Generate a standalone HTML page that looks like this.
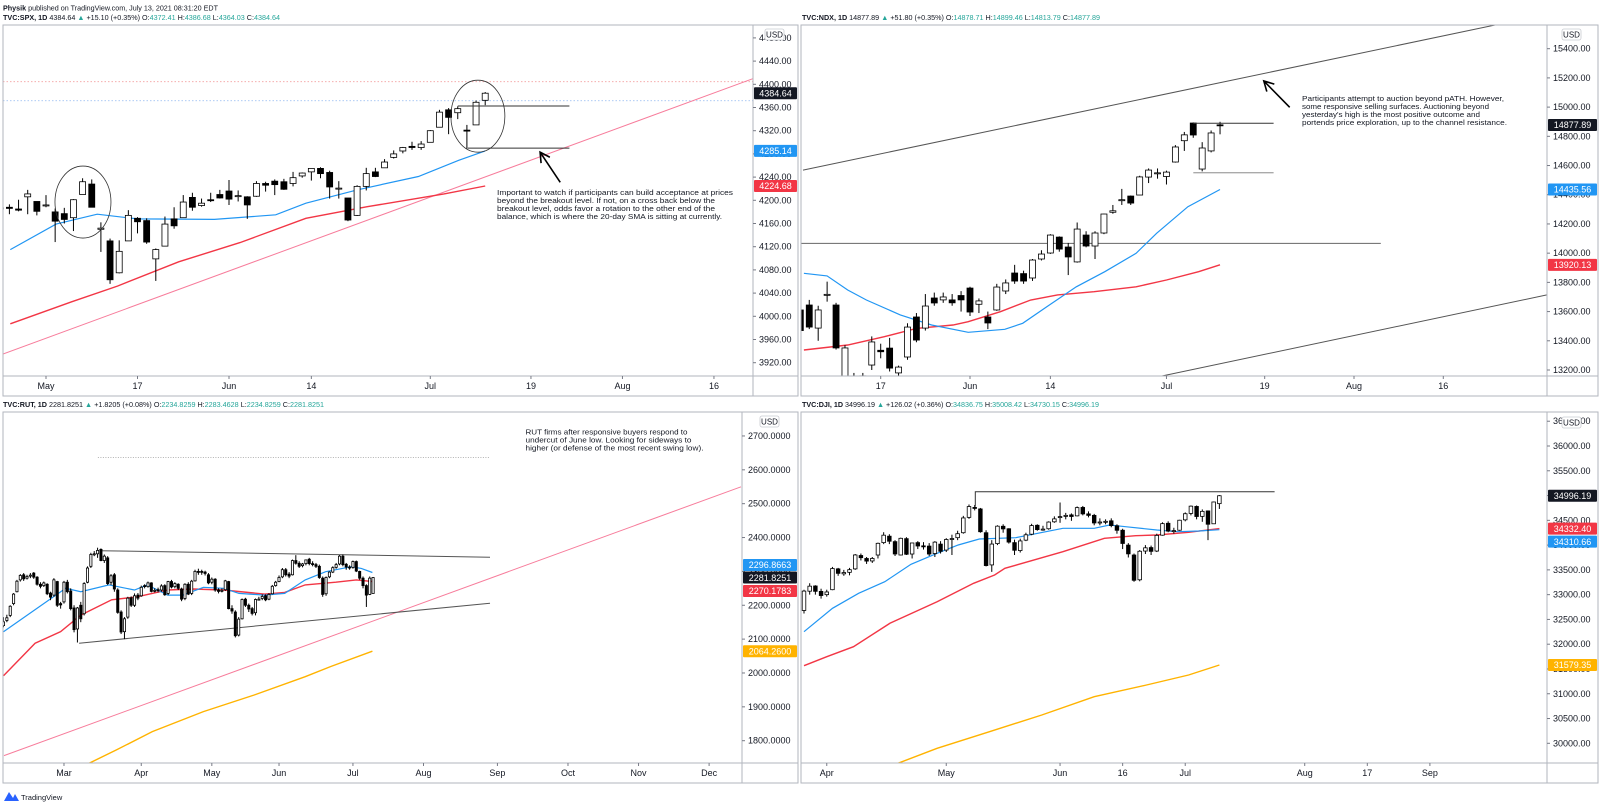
<!DOCTYPE html>
<html><head><meta charset="utf-8"><title>Index charts</title>
<style>
html,body{margin:0;padding:0;background:#fff;}
svg{display:block;font-family:"Liberation Sans",sans-serif;}
</style></head>
<body>
<svg id="chart" width="1600" height="805" viewBox="0 0 1600 805" xmlns="http://www.w3.org/2000/svg">
  <rect x="0" y="0" width="1600" height="805" fill="#ffffff"/>
  <text x="3" y="10.5" font-size="7.2" fill="#131722" textLength="215" lengthAdjust="spacingAndGlyphs"><tspan font-weight="bold">Physik</tspan> published on TradingView.com, July 13, 2021 08:31:20 EDT</text>
  <text x="3" y="20" font-size="7.2" fill="#131722" textLength="277" lengthAdjust="spacingAndGlyphs"><tspan font-weight="bold">TVC:SPX, 1D</tspan> 4384.64 <tspan fill="#26a69a">▲</tspan> +15.10 (+0.35%) O:<tspan fill="#26a69a">4372.41</tspan> H:<tspan fill="#26a69a">4386.68</tspan> L:<tspan fill="#26a69a">4364.03</tspan> C:<tspan fill="#26a69a">4384.64</tspan></text>
  <text x="802" y="20" font-size="7.2" fill="#131722" textLength="298" lengthAdjust="spacingAndGlyphs"><tspan font-weight="bold">TVC:NDX, 1D</tspan> 14877.89 <tspan fill="#26a69a">▲</tspan> +51.80 (+0.35%) O:<tspan fill="#26a69a">14878.71</tspan> H:<tspan fill="#26a69a">14899.46</tspan> L:<tspan fill="#26a69a">14813.79</tspan> C:<tspan fill="#26a69a">14877.89</tspan></text>
  <text x="3" y="407" font-size="7.2" fill="#131722" textLength="321" lengthAdjust="spacingAndGlyphs"><tspan font-weight="bold">TVC:RUT, 1D</tspan> 2281.8251 <tspan fill="#26a69a">▲</tspan> +1.8205 (+0.08%) O:<tspan fill="#26a69a">2234.8259</tspan> H:<tspan fill="#26a69a">2283.4628</tspan> L:<tspan fill="#26a69a">2234.8259</tspan> C:<tspan fill="#26a69a">2281.8251</tspan></text>
  <text x="802" y="407" font-size="7.2" fill="#131722" textLength="297" lengthAdjust="spacingAndGlyphs"><tspan font-weight="bold">TVC:DJI, 1D</tspan> 34996.19 <tspan fill="#26a69a">▲</tspan> +126.02 (+0.36%) O:<tspan fill="#26a69a">34836.75</tspan> H:<tspan fill="#26a69a">35008.42</tspan> L:<tspan fill="#26a69a">34730.15</tspan> C:<tspan fill="#26a69a">34996.19</tspan></text>
  <g>
    <path d="M4 801 L9 792 L13 798 L15 794 L19 801 Z" fill="#2962ff"/>
    <text x="21" y="800" font-size="7.5" fill="#131722">TradingView</text>
  </g>
</svg>
<script>
// ================= SPX data =================
const spxOpen=[4185,4188,4185,4206,4198,4191,4180,4177,4170,4210,4228,4150,4130,4075,4130,4169,4165,4099,4121,4168,4170,4205,4191,4201,4210,4216,4207,4206,4207,4229,4233,4232,4229,4242,4249,4255,4248,4220,4204,4174,4224,4249,4256,4274,4285,4293,4291,4300,4326,4356,4351,4321,4330,4372.41];
const spxHigh=[4194,4193,4201,4218,4198,4209,4186,4187,4202,4238,4236,4162,4134,4131,4183,4171,4169,4117,4172,4188,4209,4213,4203,4213,4218,4235,4217,4207,4233,4232,4236,4237,4249,4248,4255,4257,4251,4233,4204,4226,4256,4256,4271,4286,4292,4301,4302,4321,4356,4359,4362,4330,4372,4386.68];
const spxLow=[4182,4176,4181,4176,4174,4188,4128,4160,4147,4210,4188,4111,4056,4074,4130,4143,4125,4061,4121,4151,4170,4182,4189,4197,4203,4192,4198,4168,4206,4215,4209,4218,4224,4239,4234,4238,4203,4203,4164,4173,4217,4240,4256,4272,4281,4287,4287,4300,4326,4314,4340,4289,4330,4364.03];
const spxClose=[4187,4186,4183,4211,4181,4192,4164,4167,4201,4232,4188,4152,4063,4112,4174,4163,4128,4115,4159,4156,4197,4188,4195,4200,4204,4202,4208,4192,4229,4226,4227,4219,4239,4247,4255,4246,4223,4221,4166,4224,4246,4241,4266,4280,4291,4291,4297,4320,4352,4343,4358,4320,4369,4384.64];
const spxSma20Idx=[1.1,6.1,10.6,15,23.4,30.1,33.4,39,45.7,50.1,53];
const spxSma20Val=[4115,4159,4176,4168,4167,4175,4195,4218,4241,4269,4285.14];
const spxSma50Idx=[1.1,7.8,12.8,19.5,26.2,33.4,40.1,48.5,53];
const spxSma50Val=[3987,4025,4052,4094,4127,4169,4189,4211,4224.68];
const spxTicks=[3920,3960,4000,4040,4080,4120,4160,4200,4240,4280,4320,4360,4400,4440,4480];
const spxDateIdx=[5,15,25,34,47,58,68,78];
const spxDateLbl=['May','17','Jun','14','Jul','19','Aug','16'];

// ================= NDX data =================
const ndxOpen=[13611,13645,13487,13714,13645,13150,13100,13120,13234,13335,13350,13180,13289,13563,13487,13693,13680,13680,13710,13761,13650,13563,13611,13741,13864,13860,13830,13960,14001,14110,14042,13940,14124,14049,14138,14280,14362,14391,14398,14521,14546,14525,14624,14770,14891,14576,14700,14878.71];
const ndxHigh=[13640,13680,13640,13805,13660,13370,13180,13180,13430,13380,13420,13230,13520,13590,13720,13730,13730,13720,13740,13770,13690,13600,13790,13820,13920,13880,13960,14020,14130,14115,14070,14210,14150,14150,14270,14330,14440,14395,14530,14580,14580,14565,14740,14830,14895,14760,14840,14899.46];
const ndxLow=[13440,13480,13400,13668,13340,13050,13000,13050,13200,13280,13190,13100,13270,13390,13470,13640,13660,13640,13600,13570,13590,13480,13605,13720,13790,13790,13810,13950,13995,14010,13850,13935,14040,13960,14130,14270,14330,14330,14398,14480,14510,14470,14620,14700,14790,14560,14690,14813.79];
const ndxClose=[13470,13494,13611,13718,13351,13351,13140,13160,13392,13325,13213,13220,13494,13405,13638,13659,13700,13660,13680,13597,13673,13522,13768,13796,13809,13809,13953,13994,14124,14028,13974,14165,14049,14138,14268,14290,14366,14343,14522,14569,14550,14555,14727,14810,14809,14720,14823,14877.89];
const ndxSma20Idx=[0.4,3,5.3,7.4,11.2,14.7,18.8,22.9,24.9,27.6,30.9,34.1,37.6,39.9,43.4,47];
const ndxSma20Val=[13862,13844,13748,13679,13577,13508,13458,13479,13520,13633,13770,13873,13999,14136,14318,14435.56];
const ndxSma50Idx=[0.4,5.3,9.4,13,17.1,18.8,22.4,25.8,28.8,32.9,37.6,41,44.6,47];
const ndxSma50Val=[13337,13371,13428,13485,13508,13531,13599,13679,13714,13736,13770,13816,13873,13920.13];
const ndxTicks=[13200,13400,13600,13800,14000,14200,14400,14600,14800,15000,15200,15400];
const ndxDateIdx=[9,19,28,41,52,62,72];
const ndxDateLbl=['17','Jun','14','Jul','19','Aug','16'];

// ================= RUT data =================
const rutOpen=[2140,2155,2170,2205,2240,2275,2290,2280,2287,2295,2283,2262,2258,2262,2236,2230,2270,2205,
2210,2268,2242,2192,2130,2200,2175,2268,2315,2350,2352,2365,2332,2340,2268,2290,2245,2180,2122,2165,2222,2200,2230,
2228,2258,2255,2266,2242,2246,2245,2258,2235,2270,2255,2262,2248,2220,2262,2235,2272,2300,2300,2298,2290,
2268,2277,2245,2242,2246,2270,2190,2180,2112,2160,2218,2200,2190,2178,2218,2220,2228,2218,2234,2258,
2270,2284,2305,2292,2290,2332,2324,2317,2323,2336,2323,2320,2315,2280,2234,2284,2298,2312,2322,2345,2321,2313,
2312,2329,2300,2280,2258,2232,2234.83];
const rutHigh=[2165,2172,2200,2236,2275,2292,2295,2290,2295,2298,2286,2268,2270,2265,2240,2280,2272,2210,
2272,2275,2250,2200,2195,2210,2268,2315,2355,2360,2370,2368,2350,2345,2292,2295,2250,2185,2165,2225,2226,2235,2236,
2258,2262,2270,2268,2250,2252,2262,2262,2272,2275,2268,2265,2252,2265,2268,2275,2305,2308,2305,2302,2295,
2282,2280,2250,2250,2275,2272,2200,2185,2165,2220,2222,2205,2195,2220,2225,2232,2232,2236,2260,2272,
2288,2310,2310,2298,2335,2348,2330,2325,2330,2340,2330,2325,2320,2285,2285,2300,2315,2325,2348,2350,2325,2318,
2332,2332,2302,2285,2262,2285,2283.46];
const rutLow=[2135,2150,2165,2200,2238,2270,2272,2276,2280,2278,2258,2250,2254,2230,2215,2225,2195,2190,
2205,2235,2185,2120,2090,2150,2170,2265,2310,2345,2340,2330,2325,2260,2260,2240,2175,2115,2100,2160,2195,2195,2215,
2225,2250,2252,2238,2238,2238,2240,2228,2230,2250,2250,2245,2212,2215,2230,2230,2270,2290,2290,2288,2262,
2262,2240,2235,2238,2242,2188,2175,2105,2108,2158,2195,2180,2170,2170,2215,2215,2212,2215,2232,2255,
2268,2280,2285,2280,2288,2320,2310,2312,2318,2318,2315,2310,2278,2225,2228,2280,2295,2308,2318,2315,2305,2305,
2308,2298,2275,2250,2195,2230,2234.83];
const rutClose=[2151,2163,2197,2233,2271,2288,2278,2285,2289,2283,2262,2256,2266,2234,2224,2275,2200,2201,
2268,2240,2190,2128,2192,2160,2264,2310,2350,2352,2362,2332,2345,2264,2287,2248,2179,2121,2160,2221,2200,2228,2221,
2253,2256,2266,2241,2244,2243,2257,2231,2270,2254,2264,2250,2218,2262,2233,2271,2300,2298,2298,2294,2266,
2277,2245,2241,2244,2272,2190,2183,2110,2159,2217,2200,2189,2176,2217,2218,2226,2216,2232,2256,2268,
2282,2305,2290,2286,2332,2324,2315,2322,2334,2323,2320,2315,2282,2232,2282,2298,2311,2320,2345,2320,2313,2310,
2329,2301,2280,2258,2230,2280,2281.83];
const rutSma20Idx=[0,18.5,23,31.4,39,42.8,48.9,53.4,59.5,65.5,70.1,77.7,83.7,89.8,95.9,103.5,106.5,109.8];
const rutSma20Val=[2122,2250,2240,2260,2245,2260,2230,2230,2253,2250,2235,2230,2235,2275,2299,2314,2309,2296.87];
const rutSma50Idx=[0,9.4,17,23,32.2,39.8,48.9,56.4,65.5,77.7,83.7,89.8,98.9,105,109.8];
const rutSma50Val=[1992,2088,2122,2171,2216,2225,2245,2248,2245,2233,2238,2260,2268,2275,2270.18];
const rutSma200Idx=[25.4,33.7,44.3,59.5,74.6,89.8,97.4,109.8];
const rutSma200Val=[1733,1773,1827,1886,1935,1989,2019,2064.26];
const rutTicks=[1800,1900,2000,2100,2200,2300,2400,2500,2600,2700];
const rutDateIdx=[18,41,62,82,104,125,147,168,189,210];
const rutDateLbl=['Mar','Apr','May','Jun','Jul','Aug','Sep','Oct','Nov','Dec'];

// ================= DJI data =================
const djiOpen=[32681,33070,33175,33066,33000,33100,33520,33420,33450,33520,33790,33730,33680,33800,34050,34180,34070,33800,34130,33820,34050,33985,33980,33830,34020,33900,34120,34150,34250,34560,34760,34730,34250,33600,34030,34380,34330,34050,33890,34100,34220,34400,34320,34330,34470,34560,34590,34610,34590,34760,34630,34600,34450,34460,34490,34390,34300,34000,33800,33300,33880,33950,33880,34200,34440,34290,34300,34510,34640,34780,34580,34690,34430,34836.75];
const djiHigh=[33100,33230,33190,33120,33100,33560,33540,33500,33540,33820,33830,33760,33760,34050,34260,34220,34100,34150,34160,33920,34080,34060,34040,34080,34080,34140,34210,34290,34590,34820,34810,34750,34300,34100,34400,34420,34340,34110,34130,34250,34430,34420,34390,34480,34580,34860,34650,34640,34780,34790,34680,34630,34540,34520,34540,34420,34330,34040,33830,33900,34000,33990,34230,34460,34480,34350,34510,34660,34800,34800,34720,34700,34880,35008.42];
const djiLow=[32620,33000,33000,32920,32960,33090,33380,33380,33390,33500,33690,33620,33640,33730,34020,34020,33780,33790,33800,33730,33920,33910,33780,33760,33830,33860,33800,34100,34230,34530,34700,34250,33570,33460,34000,34250,34030,33800,33850,34080,34200,34290,34290,34310,34450,34450,34520,34490,34580,34600,34560,34400,34400,34420,34360,34230,33920,33750,33260,33270,33820,33800,33860,34190,34260,34230,34290,34480,34600,34520,34470,34100,34440,34730.15];
const djiClose=[33072,33171,33067,32982,33054,33527,33430,33446,33504,33801,33746,33677,33730,34036,34200,34078,33821,34137,33815,34043,33982,33984,33820,34060,33875,34113,34133,34230,34548,34778,34742,34270,33587,34021,34382,34327,34061,33896,34084,34208,34394,34313,34323,34465,34529,34575,34600,34577,34756,34630,34600,34447,34466,34480,34394,34299,34033,33823,33290,33876,33945,33874,34196,34433,34283,34292,34502,34633,34786,34577,34681,34421,34870,34996.19];
const djiSma20Idx=[0,5,9.6,14.2,18.8,23.4,27.1,30.8,37.2,45.5,51,53.7,56.5,62,65.7,69.4,73];
const djiSma20Val=[32252,32724,33027,33261,33612,33834,34002,34123,34149,34339,34339,34406,34372,34305,34271,34285,34310.66];
const djiSma50Idx=[0,4,8.7,15.1,23.4,29.8,33.5,35.3,45.5,52.8,58.3,62,67.6,73];
const djiSma50Val=[31566,31748,31950,32422,32858,33229,33397,33532,33867,34137,34190,34204,34258,34332.40];
const djiSma200Idx=[16.5,23.4,32.6,41.8,51,60.2,67.6,73];
const djiSma200Val=[29596,29899,30234,30571,30940,31176,31378,31579.35];
const djiTicks=[30000,30500,31000,31500,32000,32500,33000,33500,34000,34500,35000,35500,36000,36500];
const djiDateIdx=[4,25,45,56,67,88,99,110];
const djiDateLbl=['Apr','May','Jun','16','Jul','Aug','17','Sep'];

// ================= drawing =================
const NS='http://www.w3.org/2000/svg';
const svg=document.getElementById('chart');
function mk(tag,attrs,parent,name,inter){
  const e=document.createElementNS(NS,tag);
  for(const k in attrs) e.setAttribute(k,attrs[k]);
  
  
  (parent||svg).appendChild(e);
  return e;
}
const BLUE='#2196f3', RED='#f23645', ORANGE='#ffb300', PINK='#f77c9b', GRID='#b2b5be';

function panel(c){
  const g=mk('g',{},svg,c.name+'-panel','false');
  const cp=mk('clipPath',{id:c.name+'-clip'},g,c.name+'-clip','false');
  mk('rect',{x:c.x0,y:c.y0,width:c.ax-c.x0,height:c.ay-c.y0},cp,c.name+'-clip-rect','false');
  const plot=mk('g',{'clip-path':'url(#'+c.name+'-clip)'},g,c.name+'-plot-area','true');
  c.plot=plot;
  mk('rect',{x:c.x0,y:c.y0,width:c.x1-c.x0,height:c.y1-c.y0,fill:'none',stroke:GRID,'stroke-width':1},g,c.name+'-frame','false');
  mk('line',{x1:c.ax,y1:c.y0,x2:c.ax,y2:c.y1,stroke:GRID,'stroke-width':1},g,c.name+'-price-axis-divider','false');
  mk('line',{x1:c.x0,y1:c.ay,x2:c.x1,y2:c.ay,stroke:GRID,'stroke-width':1},g,c.name+'-time-axis-divider','false');
  const ticks=c.ticks;
  for(let i=0;i<ticks.length;i++){
    const y=c.yf(ticks[i]);
    if(y<c.y0+3||y>c.ay-2) continue;
    const tg=mk('g',{},g,c.name+'-price-tick','false');
    mk('line',{x1:c.ax,y1:y,x2:c.ax+3,y2:y,stroke:'#787b86','stroke-width':1},tg,c.name+'-price-tick-mark','false');
    const t=mk('text',{x:c.ax+6,y:y+3,'font-size':9,fill:'#131722'},tg,c.name+'-price-tick-label','false');
    t.textContent=ticks[i].toFixed(c.dec);
  }
  for(let i=0;i<c.dateIdx.length;i++){
    const x=c.xf(c.dateIdx[i]);
    mk('line',{x1:x,y1:c.ay,x2:x,y2:c.ay+3,stroke:'#787b86','stroke-width':1},g,c.name+'-date-tick-mark','false');
    const t=mk('text',{x:x,y:c.ay+13,'font-size':9,fill:'#131722','text-anchor':'middle'},g,c.name+'-date-label','false');
    t.textContent=c.dateLbl[i];
  }
  return g;
}
function candles(c,O,H,L,C,bw){
  const g=mk('g',{},c.plot,c.name+'-candles','false');
  for(let i=0;i<C.length;i++){
    const x=c.xf(i);
    const up=C[i]>=O[i];
    const cg=mk('g',{},g,c.name+'-candle','true');
    mk('line',{x1:x,y1:c.yf(H[i]),x2:x,y2:c.yf(L[i]),stroke:'#000','stroke-width':1},cg,c.name+'-candle-wick','false');
    const yt=c.yf(Math.max(O[i],C[i])), yb=c.yf(Math.min(O[i],C[i]));
    mk('rect',{x:x-bw/2,y:yt,width:bw,height:Math.max(1,yb-yt),fill:up?'#fff':'#000',stroke:'#000','stroke-width':0.8},cg,c.name+'-candle-body','false');
  }
}
function line(c,idx,val,color,w,name,dash){
  let d='';
  for(let i=0;i<idx.length;i++){ d+=(i?'L':'M')+c.xf(idx[i]).toFixed(1)+' '+c.yf(val[i]).toFixed(1); }
  const a={d:d,fill:'none',stroke:color,'stroke-width':w};
  if(dash) a['stroke-dasharray']=dash;
  mk('path',a,c.plot,name,'true');
}
function priceLabel(c,p,txt,bg,name){
  const y=c.yf(p);
  const g=mk('g',{},svg,name,'false');
  mk('rect',{x:c.ax+1,y:y-6,width:c.x1-c.ax-2,height:12,fill:bg,rx:1},g,name+'-bg','false');
  const t=mk('text',{x:(c.ax+c.x1)/2,y:y+3.2,'font-size':9,fill:'#fff','text-anchor':'middle'},g,name+'-text','false');
  t.textContent=txt;
}
function usd(x,y,name){
  const g=mk('g',{},svg,name,'true');
  mk('rect',{x:x,y:y,width:19,height:11,rx:2,fill:'#fff',stroke:'#c9cbd1','stroke-width':0.8},g,name+'-box','false');
  const t=mk('text',{x:x+9.5,y:y+8.3,'font-size':8,fill:'#131722','text-anchor':'middle'},g,name+'-text','false');
  t.textContent='USD';
}
function note(x,y,lines,widths,name){
  const g=mk('g',{},svg,name,'false');
  for(let i=0;i<lines.length;i++){
    const t=mk('text',{x:x,y:y+i*8,'font-size':7.3,fill:'#131722',textLength:widths[i],lengthAdjust:'spacingAndGlyphs'},g,name+'-line','false');
    t.textContent=lines[i];
  }
}
function arrow(c,i1,p1,i2,p2,name){
  const x1=c.xf(i1),y1=c.yf(p1),x2=c.xf(i2),y2=c.yf(p2);
  const a=Math.atan2(y2-y1,x2-x1), L=11;
  const d='M'+x1+' '+y1+'L'+x2+' '+y2+
    'M'+(x2-L*Math.cos(a-0.5))+' '+(y2-L*Math.sin(a-0.5))+'L'+x2+' '+y2+'L'+(x2-L*Math.cos(a+0.5))+' '+(y2-L*Math.sin(a+0.5));
  mk('path',{d:d,fill:'none',stroke:'#000','stroke-width':1.6},svg,name,'true');
}

// ---------- SPX ----------
const spx={name:'spx',x0:3,y0:25,x1:798,y1:396,ax:753,ay:376,dec:2,ticks:spxTicks,dateIdx:spxDateIdx,dateLbl:spxDateLbl,
  xf:i=>0.25+i*9.15, yf:p=>362.7-(p-3920)*0.58};
panel(spx);
mk('line',{x1:3,y1:spx.yf(4404.5),x2:753,y2:spx.yf(4404.5),stroke:'#f4a0a0','stroke-width':0.8,'stroke-dasharray':'1.5 2'},spx.plot,'spx-high-dotted-line','true');
mk('line',{x1:3,y1:spx.yf(4371.7),x2:753,y2:spx.yf(4371.7),stroke:'#90b8f0','stroke-width':0.8,'stroke-dasharray':'1.5 2'},spx.plot,'spx-open-dotted-line','true');
line(spx,[0.3,82.3],[3935,4410],PINK,1,'spx-trendline');
line(spx,spxSma50Idx,spxSma50Val,RED,1.4,'spx-sma50');
line(spx,spxSma20Idx,spxSma20Val,BLUE,1.2,'spx-sma20');
candles(spx,spxOpen,spxHigh,spxLow,spxClose,6);
line(spx,[50,62.2],[4362.6,4362.6],'#333',1,'spx-breakout-line');
line(spx,[51.1,62.2],[4290,4290],'#333',1,'spx-balance-low-line');
mk('ellipse',{cx:spx.xf(9.04),cy:spx.yf(4197),rx:28,ry:36,fill:'none',stroke:'#333','stroke-width':0.8},spx.plot,'spx-may-circle','true');
mk('ellipse',{cx:spx.xf(52.2),cy:spx.yf(4345),rx:27,ry:36,fill:'none',stroke:'#333','stroke-width':0.8},spx.plot,'spx-july-circle','true');
arrow(spx,61.2,4231,59,4283,'spx-arrow');
note(497,195,['Important to watch if participants can build acceptance at prices','beyond the breakout level. If not, on a cross back below the','breakout level, odds favor a rotation to the other end of the','balance, which is where the 20-day SMA is sitting at currently.'],[236,218,218,225],'spx-annotation');
priceLabel(spx,4384.64,'4384.64','#131722','spx-last-price-label');
priceLabel(spx,4285.14,'4285.14',BLUE,'spx-sma20-label');
priceLabel(spx,4224.68,'4224.68',RED,'spx-sma50-label');
usd(765,29,'spx-currency-button');

// ---------- NDX ----------
const ndx={name:'ndx',x0:801,y0:25,x1:1598,y1:396,ax:1547,ay:376,dec:2,ticks:ndxTicks,dateIdx:ndxDateIdx,dateLbl:ndxDateLbl,
  xf:i=>970+(i-19)*8.93, yf:p=>370-(p-13200)*0.14605};
panel(ndx);
line(ndx,[0.3,77.8],[14569,15562],'#555',1,'ndx-channel-upper');
line(ndx,[40.5,83.6],[13159,13714],'#555',1,'ndx-channel-lower');
line(ndx,[-1,65],[14067,14067],'#666',1,'ndx-horizontal-level');
line(ndx,ndxSma50Idx,ndxSma50Val,RED,1.4,'ndx-sma50');
line(ndx,ndxSma20Idx,ndxSma20Val,BLUE,1.2,'ndx-sma20');
candles(ndx,ndxOpen,ndxHigh,ndxLow,ndxClose,6);
line(ndx,[44,53],[14889,14889],'#333',1,'ndx-high-line');
line(ndx,[44,53],[14551,14551],'#aaa',1.4,'ndx-low-line');
arrow(ndx,54.8,14999,51.9,15179,'ndx-arrow');
note(1302,101,['Participants attempt to auction beyond pATH. However,','some responsive selling surfaces. Auctioning beyond',"yesterday's high is the most positive outcome and",'portends price exploration, up to the channel resistance.'],[202,187,178,205],'ndx-annotation');
priceLabel(ndx,14877.89,'14877.89','#131722','ndx-last-price-label');
priceLabel(ndx,14435.56,'14435.56',BLUE,'ndx-sma20-label');
priceLabel(ndx,13920.13,'13920.13',RED,'ndx-sma50-label');
usd(1562,29,'ndx-currency-button');

// ---------- RUT ----------
const rut={name:'rut',x0:3,y0:412,x1:798,y1:783,ax:742,ay:763,dec:4,ticks:rutTicks,dateIdx:rutDateIdx,dateLbl:rutDateLbl,
  xf:i=>3.5+i*3.36, yf:p=>740.7-(p-1800)*0.3386};
panel(rut);
line(rut,[28.1,144.8],[2636,2636],'#999',0.8,'rut-dotted-level','1 1.5');
line(rut,[0.15,219.5],[1756,2550],PINK,1,'rut-trendline');
line(rut,[28.6,144.8],[2361,2342],'#555',1,'rut-range-top');
line(rut,[22.5,144.8],[2088,2206],'#555',1,'rut-range-bottom');
line(rut,rutSma200Idx,rutSma200Val,ORANGE,1.4,'rut-sma200');
line(rut,rutSma50Idx,rutSma50Val,RED,1.4,'rut-sma50');
line(rut,rutSma20Idx,rutSma20Val,BLUE,1.2,'rut-sma20');
candles(rut,rutOpen,rutHigh,rutLow,rutClose,2.2);
note(525.5,434.5,['RUT firms after responsive buyers respond to','undercut of June low. Looking for sideways to','higher (or defense of the most recent swing low).'],[162,166,178],'rut-annotation');
priceLabel(rut,2319,'2296.8663',BLUE,'rut-sma20-label');
priceLabel(rut,2281.8251,'2281.8251','#131722','rut-last-price-label');
priceLabel(rut,2242,'2270.1783',RED,'rut-sma50-label');
priceLabel(rut,2064.26,'2064.2600',ORANGE,'rut-sma200-label');
usd(760,416,'rut-currency-button');

// ---------- DJI ----------
const dji={name:'dji',x0:801,y0:412,x1:1598,y1:783,ax:1547,ay:763,dec:2,ticks:djiTicks,dateIdx:djiDateIdx,dateLbl:djiDateLbl,
  xf:i=>804+i*5.69, yf:p=>743.3-(p-30000)*0.04955};
panel(dji);
line(dji,djiSma200Idx,djiSma200Val,ORANGE,1.4,'dji-sma200');
line(dji,djiSma50Idx,djiSma50Val,RED,1.4,'dji-sma50');
line(dji,djiSma20Idx,djiSma20Val,BLUE,1.2,'dji-sma20');
candles(dji,djiOpen,djiHigh,djiLow,djiClose,3.6);
line(dji,[30.1,30.1,82.7],[34776,35078,35078],'#333',1,'dji-resistance-line');
priceLabel(dji,34996.19,'34996.19','#131722','dji-last-price-label');
priceLabel(dji,34332.40,'34332.40',RED,'dji-sma50-label');
priceLabel(dji,34069,'34310.66',BLUE,'dji-sma20-label');
priceLabel(dji,31579.35,'31579.35',ORANGE,'dji-sma200-label');
usd(1562,417,'dji-currency-button');
</script>
</body></html>
